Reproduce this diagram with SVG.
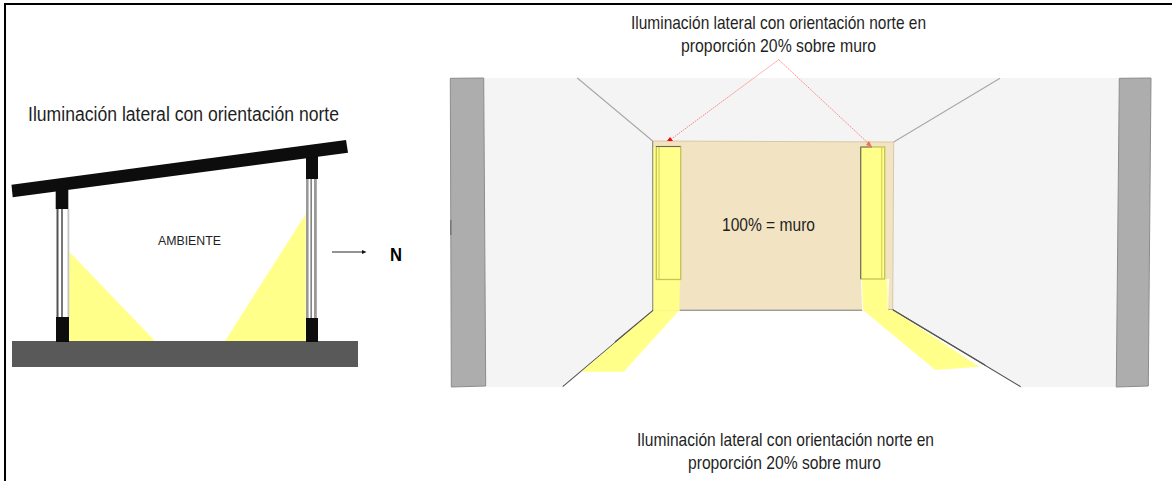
<svg xmlns="http://www.w3.org/2000/svg" width="1172" height="481" viewBox="0 0 1172 481">
<style>
text{font-family:"Liberation Sans Narrow","Liberation Sans",Arial,sans-serif;fill:#1f1f1f}
.t{font-size:19px}
.k{fill:#0d0d0d}
.y{fill:#ffff8a}
.w{fill:#f4f4f4}
.g{fill:#adadad;stroke:#8c8c8c;stroke-width:1}
.r{stroke:#f66;stroke-width:.8;stroke-dasharray:1.500 1;fill:none}
</style>
<rect width="1172" height="481" fill="#fff"/>
<path d="M5 481V4H1172" fill="none" stroke="#000" stroke-width="2"/>
<g id="section">
<polygon class="y" points="69.500,252 155,341 68.500,341"/>
<polygon class="y" points="305.700,214 305.700,341 225,341"/>
<rect x="12" y="341" width="346" height="26" fill="#595959"/>
<g id="window-left">
<rect x="57" y="209" width="12" height="108" fill="#fff"/>
<rect x="56.500" y="209" width="2" height="108" fill="#555"/>
<rect x="61" y="209" width="2" height="108" fill="#777"/>
<rect x="67.500" y="209" width="1.800" height="108" fill="#c4c4c4"/>
<rect class="k" x="56" y="317" width="13" height="25"/>
<rect class="k" x="55.700" y="190" width="12.600" height="19"/>
</g>
<g id="window-right">
<rect x="306" y="179" width="12" height="139" fill="#fff"/>
<rect x="306" y="179" width="2.600" height="139" fill="#999"/>
<rect x="310.500" y="179" width="1.300" height="139" fill="#666"/>
<rect x="314" y="179" width="2.800" height="139" fill="#999"/>
<rect class="k" x="306" y="318" width="12" height="24"/>
<rect class="k" x="306" y="150" width="12" height="29"/>
</g>
<polygon class="k" points="11.500,184.700 346,140 348,152.700 12.700,197.300"/>
<text x="28" y="120.500" textLength="311" lengthAdjust="spacingAndGlyphs" style="font-size:20px">Iluminación lateral con orientación norte</text>
<text x="158" y="245" textLength="63" lengthAdjust="spacingAndGlyphs" style="font-size:13px">AMBIENTE</text>
<path d="M332 252H362" stroke="#111" stroke-width=".9"/>
<polygon points="362,250 366.500,252 362,254" fill="#111"/>
<text x="390" y="261" textLength="12" lengthAdjust="spacingAndGlyphs" style="font-size:19px;font-weight:700;fill:#000;font-family:'Liberation Sans',sans-serif">N</text>
</g>
<g id="room">
<polygon class="w" points="484,78 1119,78 1117,387 1021,387 893,310 653,310 563,387 485,387"/>
<polygon points="652.700,141 893.700,142 892.700,310 653.300,310.300" fill="#f2e3c3" stroke="#d8c8a6" stroke-width="1"/>
<polygon class="g" points="450.300,78.300 483.700,78 485.700,386 451.300,387"/>
<polygon class="g" points="1119.300,78.300 1151,78 1148.300,386 1116.300,387"/>
<rect x="450" y="220" width="1.500" height="15" fill="#777"/>
<g stroke-width="1.100" fill="none">
<path d="M577.300 78 652.700 141M1000 78.300 893.700 142" stroke="#a8a8a8"/>
<path d="M562.700 386.700 653.300 310.300M1020.700 386.700 892.700 309.700" stroke="#555"/>
<path d="M680 310.300H862M887.700 310H892.700" stroke="#888"/>
</g>
<g id="light-left">
<polygon class="y" points="653.300,147 680.500,147 680,279 679.300,310.300 653.300,310.300"/>
<polygon class="y" points="653.300,310.300 679.300,310.300 623.700,371.700 581.300,371.700"/>
<rect x="656.300" y="146.500" width="24.400" height="133" fill="none" stroke="#c4c455" stroke-width="1.300"/>
<path d="M659 147V279" stroke="#d4d458" stroke-width="1.200"/>
<path d="M656 146.500H680.500" stroke="#666" stroke-width="1"/>
<path d="M652.700 141V310.300" stroke="#888" stroke-width="1"/>
<path d="M653 310.300 615 342" stroke="#555" stroke-width="1.100"/>
</g>
<g id="light-right">
<polygon points="861,279 889,279 888,310 862,310" fill="#fff"/>
<polygon class="y" points="862,279 887.300,279 887.700,310 863,310"/>
<polygon points="862,311 863.500,310 936,369 934,371" fill="#fff"/>
<polygon class="y" points="863.300,310.300 892.700,310 979.300,366.700 935.300,370"/>
<rect x="860.700" y="147" width="24" height="132" class="y"/>
<rect x="860.700" y="147" width="24" height="132" fill="none" stroke="#c4c455" stroke-width="1.300"/>
<path d="M881.700 147V279" stroke="#d4d458" stroke-width="1.200"/>
<path d="M860.700 147V279" stroke="#666" stroke-width="1"/>
<path d="M860.700 147H872" stroke="#777" stroke-width="1"/>
<path d="M892.700 309.700 985 365" stroke="#555" stroke-width="1.100"/>
</g>
<text class="t" x="722" y="231" textLength="93" lengthAdjust="spacingAndGlyphs">100% = muro</text>
</g>
<g id="connectors">
<path class="r" d="M778.700 59.700 670 140"/>
<path class="r" d="M778.700 59.700 868 143"/>
<polygon points="667,141 670,137 673,141" fill="#f00"/>
<polygon points="872,147 866,145 869,141" fill="#f07050"/>
</g>
<g id="captions">
<text class="t" x="631" y="29" textLength="295" lengthAdjust="spacingAndGlyphs">Iluminación lateral con orientación norte en</text>
<text class="t" x="681" y="52" textLength="195" lengthAdjust="spacingAndGlyphs">proporción 20% sobre muro</text>
<text class="t" x="637" y="446" textLength="297" lengthAdjust="spacingAndGlyphs">Iluminación lateral con orientación norte en</text>
<text class="t" x="688" y="469" textLength="193" lengthAdjust="spacingAndGlyphs">proporción 20% sobre muro</text>
</g>
</svg>
